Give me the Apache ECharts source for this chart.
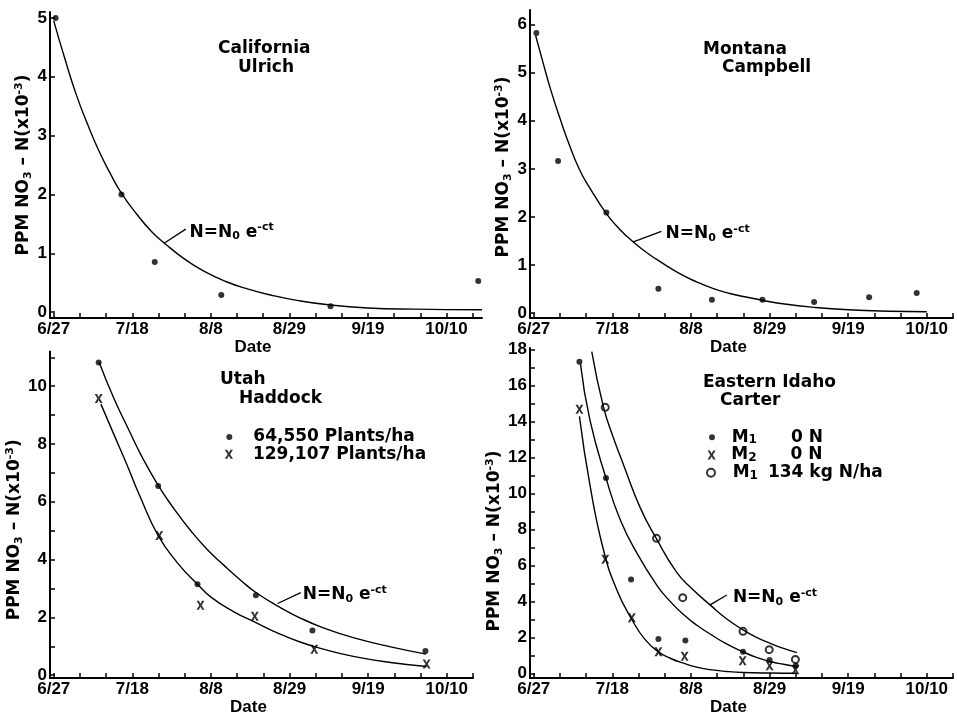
<!DOCTYPE html>
<html>
<head>
<meta charset="utf-8">
<script src="https://cdn.jsdelivr.net/npm/echarts@6/dist/echarts.min.js"></script>
<style>
  html, body { margin: 0; padding: 0; background: #fff; }
  #chart { width: 957px; height: 717px; }
</style>
</head>
<body>
<div id="chart"></div>
<script>
// Sampling dates are counted in days after 27 June.
const dateTicks = ['6/27', '7/18', '8/8', '8/29', '9/19', '10/10'];
const dateTickDays = [0, 21, 42, 63, 84, 105];
const weekTickDays = [0, 7, 14, 21, 28, 35, 42, 49, 56, 63, 70, 77, 84, 91, 98, 105, 112];

// California - Ulrich
const caDays = [0.5, 18.1, 27, 44.8, 74, 113.5];
const caPpm = [5.0, 2.0, 0.85, 0.29, 0.1, 0.53];
const caFitDays = [0, 3, 6, 9, 12, 15, 18, 22, 26, 30, 35, 40, 46, 52, 58, 65, 74, 84, 96, 114.5];
const caFitPpm = [4.95, 4.3, 3.7, 3.2, 2.75, 2.37, 2.03, 1.68, 1.38, 1.15, 0.9, 0.7, 0.52, 0.39, 0.29, 0.2, 0.12, 0.07, 0.05, 0.04];

// Montana - Campbell
const mtDays = [0.7, 6.5, 19.4, 33.3, 47.6, 61.1, 74.9, 89.6, 102.3];
const mtPpm = [5.82, 3.16, 2.09, 0.51, 0.28, 0.28, 0.23, 0.33, 0.42];
const mtFitDays = [0.5, 2.5, 4.5, 7, 9.5, 12.3, 15, 19.4, 23, 26.6, 30.5, 34.6, 39, 43.5, 48, 52.4, 57, 61, 67, 75, 84, 95, 105];
const mtFitPpm = [5.77, 5.2, 4.65, 4.05, 3.5, 2.97, 2.6, 2.07, 1.74, 1.48, 1.24, 1.03, 0.82, 0.65, 0.51, 0.41, 0.33, 0.27, 0.19, 0.12, 0.07, 0.04, 0.03];

// Utah - Haddock, two plant populations
const utDaysLow = [12, 27.9, 38.4, 54, 69.1, 99.3];
const utPpmLow = [10.82, 6.55, 3.15, 2.77, 1.55, 0.84];
const utDaysHigh = [12, 28.2, 39.2, 53.7, 69.6, 99.6];
const utPpmHigh = [9.57, 4.83, 2.42, 2.04, 0.9, 0.39];
const utFitDaysLow = [12.1, 16, 20, 24, 27.9, 32, 36.6, 41, 45.5, 50, 54, 60, 66, 72, 80, 90, 99.5];
const utFitPpmLow = [10.84, 9.6, 8.5, 7.45, 6.57, 5.78, 5.0, 4.35, 3.8, 3.28, 2.86, 2.38, 1.97, 1.64, 1.3, 0.98, 0.73];
const utFitDaysHigh = [12.6, 16, 19.5, 23, 27.9, 33.1, 38.4, 42, 48, 54, 60, 66, 72, 80, 90, 99.6];
const utFitPpmHigh = [9.38, 8.35, 7.3, 6.2, 4.83, 3.88, 3.15, 2.7, 2.2, 1.82, 1.45, 1.14, 0.9, 0.65, 0.44, 0.3];

// Eastern Idaho - Carter
const idDaysM1 = [12.2, 19.3, 26, 33.3, 40.5, 55.9, 63, 70];
const idPpmM1 = [17.33, 10.87, 5.23, 1.93, 1.84, 1.21, 0.75, 0.45];
const idDaysM2 = [12.2, 19.1, 26.2, 33.3, 40.3, 55.8, 63, 69.9];
const idPpmM2 = [14.7, 6.35, 3.1, 1.21, 0.97, 0.72, 0.43, 0.22];
const idDaysM1N = [19.1, 32.8, 39.8, 55.9, 62.9, 69.9];
const idPpmM1N = [14.8, 7.52, 4.22, 2.35, 1.33, 0.79];
const idFitDaysM1 = [12.5, 15, 19.3, 23.1, 27.5, 32.9, 36.5, 40, 43.5, 47.1, 51.5, 55.9, 59.5, 63.2, 66.7, 70.3];
const idFitPpmM1 = [17.2, 14.1, 10.87, 8.55, 6.72, 4.91, 4.0, 3.28, 2.7, 2.2, 1.65, 1.21, 0.9, 0.67, 0.52, 0.4];
const idFitDaysM2 = [12.2, 15, 18.6, 22.2, 26.2, 29.7, 33.3, 36.6, 40, 43.5, 47.1, 51.5, 55.9, 63, 70.3];
const idFitPpmM2 = [14.3, 10.5, 6.9, 4.65, 3.01, 1.9, 1.21, 0.84, 0.58, 0.36, 0.22, 0.12, 0.06, 0.03, 0.02];
const idFitDaysM1N = [15.5, 18.6, 21.3, 24, 28.4, 32.7, 38.2, 42.5, 47.1, 51.5, 56, 59.5, 63.2, 66.7, 70.3];
const idFitPpmM1N = [17.9, 14.84, 13.1, 11.6, 9.24, 7.53, 5.63, 4.67, 3.82, 3.05, 2.42, 2.02, 1.68, 1.4, 1.17];

const pairs = (xs, ys) => xs.map((x, i) => [x, ys[i]]);

const textFont = 'DejaVu Sans';
const tickFont = 'Liberation Sans';
const ink = '#000';

// bold letter-style "x" marker
const xMark = 'path://M0,0 L3,0 L5,3.6 L7,0 L10,0 L6.5,5.5 L10,11 L7,11 L5,7.4 L3,11 L0,11 L3.5,5.5 Z';

const subRich = {
  t: { fontFamily: textFont, fontWeight: 'bold', fontSize: 17, lineHeight: 20, color: ink },
  s: { fontFamily: textFont, fontWeight: 'bold', fontSize: 11, lineHeight: 11, verticalAlign: 'bottom', color: ink },
  p: { fontFamily: textFont, fontWeight: 'bold', fontSize: 11, lineHeight: 11, verticalAlign: 'top', color: ink }
};

function xAxisFor(gridIndex, max) {
  return {
    type: 'value', gridIndex, min: -1, max,
    name: 'Date', nameLocation: 'middle', nameGap: 14,
    nameTextStyle: { fontFamily: tickFont, fontWeight: 'bold', fontSize: 17, color: ink, padding: [0, 26, 0, 0] },
    axisLine: { onZero: false, lineStyle: { color: ink, width: 2 } },
    axisTick: { inside: true, length: 5, customValues: weekTickDays.filter(d => d <= max), lineStyle: { color: ink, width: 1.5 } },
    axisLabel: {
      customValues: dateTickDays, margin: 3,
      fontFamily: tickFont, fontWeight: 'bold', fontSize: 17, color: ink,
      formatter: v => dateTicks[dateTickDays.indexOf(v)]
    },
    splitLine: { show: false }
  };
}

function yAxisFor(gridIndex, min, max, labels, ticks, nameGap, namePad) {
  return {
    type: 'value', gridIndex, min, max,
    name: '{t|PPM NO}{s|3}{t| – N(x10}{p|-3}{t|)}',
    nameLocation: 'middle', nameGap,
    nameTextStyle: { fontFamily: textFont, fontWeight: 'bold', fontSize: 17, color: ink, padding: namePad, rich: subRich },
    axisLine: { onZero: false, lineStyle: { color: ink, width: 2 } },
    axisTick: { inside: true, length: 5, customValues: ticks, lineStyle: { color: ink, width: 1.5 } },
    axisLabel: { customValues: labels, margin: 3, fontFamily: tickFont, fontWeight: 'bold', fontSize: 17, color: ink },
    splitLine: { show: false }
  };
}

function fitLine(idx, xs, ys, extra) {
  return Object.assign({
    type: 'line', xAxisIndex: idx, yAxisIndex: idx,
    data: pairs(xs, ys), smooth: 0.5,
    showSymbol: false, silent: true,
    lineStyle: { color: ink, width: 1.4 }
  }, extra || {});
}

function equation(from, to, textAt) {
  return {
    markLine: {
      silent: true, symbol: 'none',
      lineStyle: { color: ink, width: 1.3, type: 'solid' },
      label: { show: false },
      data: [[{ coord: from }, { coord: to }]]
    },
    markPoint: {
      silent: true, symbol: 'circle', symbolSize: 0,
      label: {
        show: true, position: 'right', distance: 0,
        formatter: '{t|N=N}{s|0}{t| e}{p|-ct}', rich: subRich
      },
      data: [{ coord: textAt }]
    }
  };
}

function dots(idx, name, xs, ys) {
  return { type: 'scatter', name, xAxisIndex: idx, yAxisIndex: idx, data: pairs(xs, ys),
    symbol: 'circle', symbolSize: 6, itemStyle: { color: ink } };
}
function crosses(idx, name, xs, ys) {
  return { type: 'scatter', name, xAxisIndex: idx, yAxisIndex: idx, data: pairs(xs, ys),
    symbol: xMark, symbolSize: [8, 9], itemStyle: { color: ink } };
}
function rings(idx, name, xs, ys) {
  return { type: 'scatter', name, xAxisIndex: idx, yAxisIndex: idx, data: pairs(xs, ys),
    symbol: 'emptyCircle', symbolSize: 7, itemStyle: { color: ink, borderColor: ink, borderWidth: 1.3 } };
}

const legendText = { fontFamily: textFont, fontWeight: 'bold', fontSize: 17, lineHeight: 18, color: ink };
const idLegendLabels = {
  'M1 0 N': '{m|M}{s|1}{z|0}{u| N}',
  'M2 0 N': '{m|M}{s|2}{z|0}{u| N}',
  'M1 134 kg N/ha': '{m|M}{s|1}{w|134}{u| kg N/ha}'
};
const idLegendRich = {
  m: { fontFamily: textFont, fontWeight: 'bold', fontSize: 17, lineHeight: 18, color: ink },
  s: { fontFamily: textFont, fontWeight: 'bold', fontSize: 12, lineHeight: 12, verticalAlign: 'bottom', color: ink },
  z: { fontFamily: textFont, fontWeight: 'bold', fontSize: 17, lineHeight: 18, padding: [0, 0, 0, 34], color: ink },
  w: { fontFamily: textFont, fontWeight: 'bold', fontSize: 17, lineHeight: 18, padding: [0, 0, 0, 10], color: ink },
  u: { fontFamily: textFont, fontWeight: 'bold', fontSize: 17, lineHeight: 18, color: ink }
};
function legendItem(name, left, top, size, textPad, idaho) {
  const l = { data: [name], left, top, itemWidth: size, itemHeight: size, padding: 0, selectedMode: false,
    textStyle: Object.assign({ padding: [0, 0, 0, textPad] }, legendText) };
  if (idaho) { l.formatter = n => idLegendLabels[n]; l.textStyle.rich = idLegendRich; }
  return l;
}

const titleLines = [
  ['California', 218, 48.5], ['Ulrich', 238, 67.5],
  ['Montana', 703, 49.5], ['Campbell', 722, 68],
  ['Utah', 220, 379.5], ['Haddock', 239, 398.8],
  ['Eastern Idaho', 703, 383], ['Carter', 720, 400.5]
];

const chart = echarts.init(document.getElementById('chart'), null, { renderer: 'canvas' });
chart.setOption({
  animation: false,
  backgroundColor: '#fff',
  grid: [
    { left: 50, top: 12, width: 432, height: 306 },
    { left: 530, top: 10, width: 423, height: 308 },
    { left: 50, top: 351.5, width: 423, height: 335 },
    { left: 530, top: 348, width: 423, height: 338.7 }
  ],
  xAxis: [xAxisFor(0, 114.5), xAxisFor(1, 112), xAxisFor(2, 112), xAxisFor(3, 112)],
  yAxis: [
    yAxisFor(0, -0.1, 5.1, [0, 1, 2, 3, 4, 5], [0, 1, 2, 3, 4, 5], 14, [0, 0, 0, 0]),
    yAxisFor(1, -0.1, 6.3, [0, 1, 2, 3, 4, 5, 6], [0, 1, 2, 3, 4, 5, 6], 14, [0, 6, 0, 0]),
    yAxisFor(2, -0.1, 11.2, [0, 2, 4, 6, 8, 10], [0, 1, 2, 3, 4, 5, 6, 7, 8, 9, 10, 11], 11, [0, 30, 0, 0]),
    yAxisFor(3, -0.25, 18.1, [0, 2, 4, 6, 8, 10, 12, 14, 16, 18],
      [0, 1, 2, 3, 4, 5, 6, 7, 8, 9, 10, 11, 12, 13, 14, 15, 16, 17, 18], 17, [0, 56, 0, 0])
  ],
  legend: [
    legendItem('64,550 Plants/ha', 226.3, 428, 6, 16, false),
    legendItem('129,107 Plants/ha', 224.8, 445.3, 9, 14.5, false),
    legendItem('M1 0 N', 709, 428.3, 6, 11.7, true),
    legendItem('M2 0 N', 707.5, 446, 9, 10.2, true),
    legendItem('M1 134 kg N/ha', 706, 463.7, 8, 12.7, true)
  ],
  graphic: titleLines.map(([text, x, y]) => ({
    type: 'text', x, y, silent: true,
    style: { text, fill: ink, font: 'bold 17px "DejaVu Sans"', align: 'left', verticalAlign: 'middle' }
  })),
  series: [
    fitLine(0, caFitDays, caFitPpm, equation([29.5, 1.17], [35.3, 1.41], [36.3, 1.36])),
    dots(0, 'California', caDays, caPpm),

    fitLine(1, mtFitDays, mtFitPpm, equation([26.6, 1.48], [34.1, 1.7], [35.2, 1.66])),
    dots(1, 'Montana', mtDays, mtPpm),

    fitLine(2, utFitDaysLow, utFitPpmLow, equation([59.8, 2.48], [66, 2.86], [66.5, 2.78])),
    fitLine(2, utFitDaysHigh, utFitPpmHigh),
    dots(2, '64,550 Plants/ha', utDaysLow, utPpmLow),
    crosses(2, '129,107 Plants/ha', utDaysHigh, utPpmHigh),

    fitLine(3, idFitDaysM1N, idFitPpmM1N, equation([47.1, 3.82], [51.6, 4.37], [53.2, 4.22])),
    fitLine(3, idFitDaysM1, idFitPpmM1),
    fitLine(3, idFitDaysM2, idFitPpmM2),
    dots(3, 'M1 0 N', idDaysM1, idPpmM1),
    crosses(3, 'M2 0 N', idDaysM2, idPpmM2),
    rings(3, 'M1 134 kg N/ha', idDaysM1N, idPpmM1N)
  ]
});
</script>
</body>
</html>
